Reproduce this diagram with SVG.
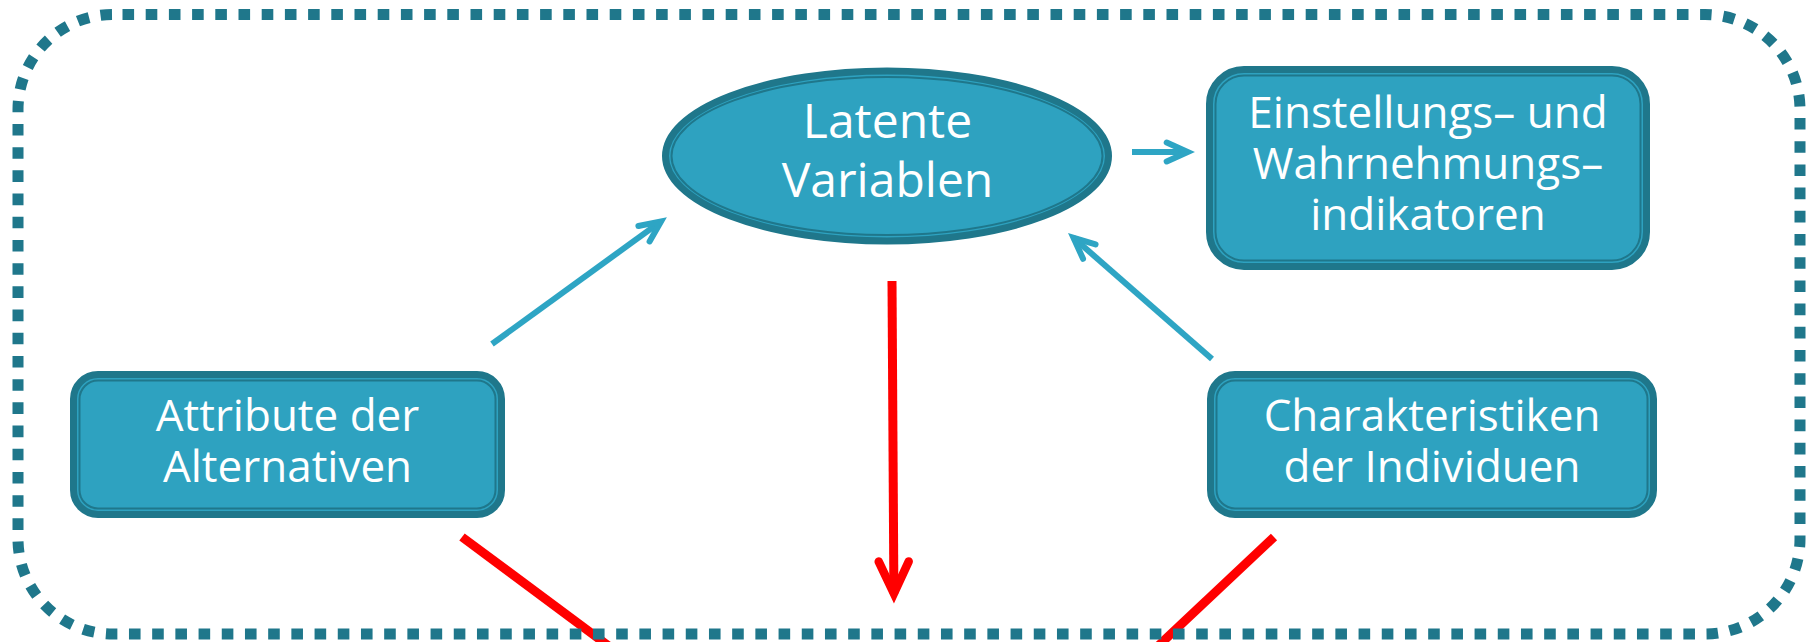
<svg xmlns="http://www.w3.org/2000/svg" width="1812" height="642" viewBox="0 0 1812 642">
  <style>
    .shell { fill: #2EA2C0; stroke: #1F778B; stroke-width: 7; }
    .rim { fill: none; stroke: #1F778B; stroke-width: 2; }
    .label { font-family: "Open Sans", "Noto Sans", "Liberation Sans", sans-serif; fill: #FFFFFF; text-anchor: middle; }
    .box-label { font-size: 44px; }
    .oval-label { font-size: 48px; }
    .link-blue { stroke: #2EA5C4; stroke-width: 6; fill: none; marker-end: url(#head-blue); }
    .link-red { stroke: #FF0000; stroke-width: 9; fill: none; }
    .frame { fill: none; stroke: #1F778B; stroke-width: 11; stroke-dasharray: 11.6 11.6; stroke-dashoffset: -9.5; }
  </style>
  <defs>
    <marker id="head-blue" markerUnits="userSpaceOnUse" orient="auto" refX="0" refY="0" markerWidth="40" markerHeight="40" overflow="visible">
      <path d="M -21 -9.5 L 0 0 L -21 9.5" fill="none" stroke="#2EA5C4" stroke-width="6" stroke-linecap="round" stroke-linejoin="miter"/>
    </marker>
    <marker id="head-red" markerUnits="userSpaceOnUse" orient="auto" refX="0" refY="0" markerWidth="50" markerHeight="50" overflow="visible">
      <path d="M -32 -15 L 0 0 L -32 15" fill="none" stroke="#FF0000" stroke-width="8.5" stroke-linecap="round" stroke-linejoin="miter"/>
    </marker>
  </defs>

  <rect width="1812" height="642" fill="#FFFFFF"/>

  <!-- nodes -->
  <g id="node-latente">
    <ellipse class="shell" cx="887" cy="156" rx="221.5" ry="85"/>
    <ellipse class="rim" cx="887" cy="156" rx="215.5" ry="79"/>
    <text class="label oval-label" x="887.5" y="138">Latente<tspan x="887.5" dy="59">Variablen</tspan></text>
  </g>

  <g id="node-indikatoren">
    <rect class="shell" x="1209.5" y="69.5" width="437" height="197" rx="34.5"/>
    <rect class="rim" x="1215.5" y="75.5" width="425" height="185" rx="28.5"/>
    <text class="label box-label" x="1428" y="128">Einstellungs– und<tspan x="1428" dy="51">Wahrnehmungs–</tspan><tspan x="1428" dy="51">indikatoren</tspan></text>
  </g>

  <g id="node-attribute">
    <rect class="shell" x="73.5" y="374.5" width="428" height="140" rx="24.5"/>
    <rect class="rim" x="79.5" y="380.5" width="416" height="128" rx="18.5"/>
    <text class="label box-label" x="287.5" y="431">Attribute der<tspan x="287.5" dy="51">Alternativen</tspan></text>
  </g>

  <g id="node-charakteristiken">
    <rect class="shell" x="1210.5" y="374.5" width="443" height="140" rx="24.5"/>
    <rect class="rim" x="1216.5" y="380.5" width="431" height="128" rx="18.5"/>
    <text class="label box-label" x="1432" y="431">Charakteristiken<tspan x="1432" dy="51">der Individuen</tspan></text>
  </g>

  <!-- connectors -->
  <g id="connectors">
    <line class="link-blue" x1="492" y1="344" x2="661" y2="221.4"/>
    <line class="link-blue" x1="1132" y1="152" x2="1187.7" y2="152"/>
    <line class="link-blue" x1="1212" y1="359" x2="1073.5" y2="237.8"/>
    <line class="link-red" x1="892" y1="281" x2="893.9" y2="593.5" marker-end="url(#head-red)"/>
    <line class="link-red" x1="462" y1="537" x2="610" y2="647"/>
    <line class="link-red" x1="1274" y1="537" x2="1156" y2="648"/>
  </g>

  <!-- dotted frame around the model -->
  <rect class="frame" x="18" y="14.5" width="1782" height="619.5" rx="95" ry="95"/>
</svg>
